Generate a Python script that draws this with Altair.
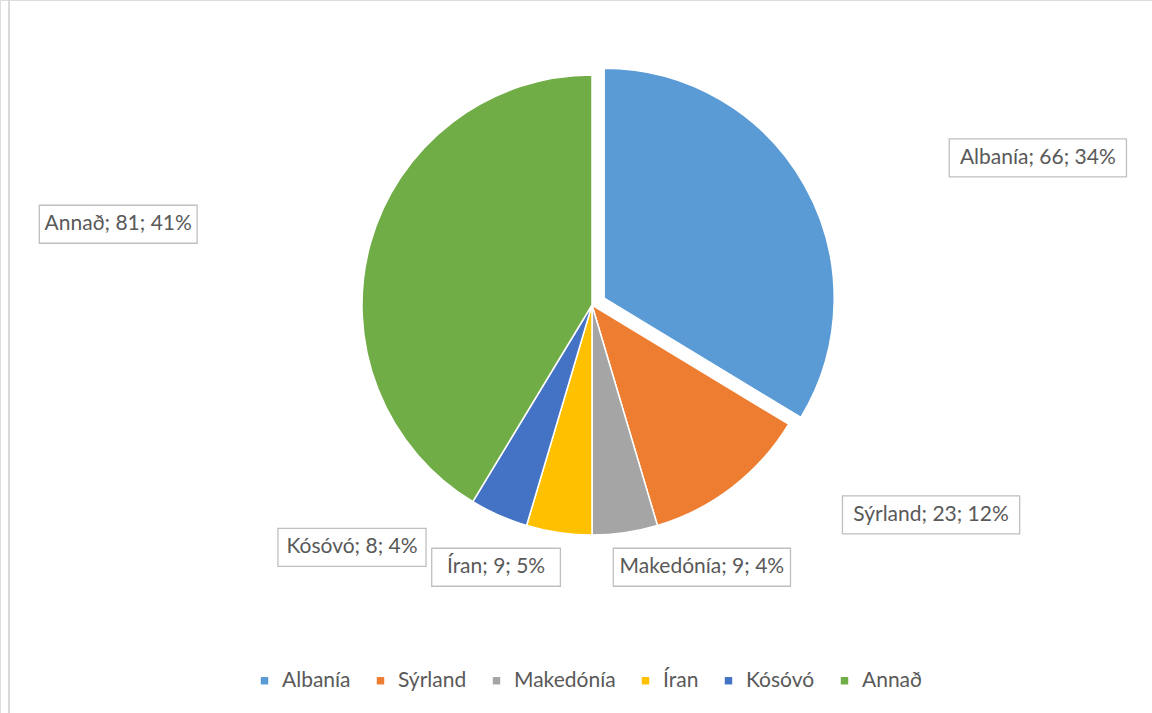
import altair as alt
import pandas as pd

categories = ["Albanía", "Sýrland", "Makedónía", "Íran", "Kósóvó", "Annað"]
values = [66, 23, 9, 9, 8, 81]
percent_labels = ["34%", "12%", "4%", "5%", "4%", "41%"]
colors = ["#5B9BD5", "#ED7D31", "#A5A5A5", "#FFC000", "#4472C4", "#70AD47"]

df = pd.DataFrame({
    "category": categories,
    "value": values,
    "pct": percent_labels,
    "order": list(range(len(categories))),
})
df["label"] = [f"{c}; {v}; {p}" for c, v, p in zip(categories, values, percent_labels)]

CX, CY, R = 592, 305, 230
RX, RY_TOP, RY_BOT = 410, 300, 265
EXPLODE = 14
FONT = "Lato"
LABEL_SIZE = 21
CHAR_W = 9.7
BOX_H = 38

base = (
    alt.Chart(df)
    .transform_window(cum="sum(value)", sort=[alt.SortField("order")], frame=[None, 0])
    .transform_joinaggregate(total="sum(value)")
    .transform_calculate(
        a0="2*PI*(datum.cum-datum.value)/datum.total",
        a1="2*PI*datum.cum/datum.total",
    )
    .transform_calculate(mid="(datum.a0+datum.a1)/2")
    .transform_calculate(
        s="sin(datum.mid)",
        c="cos(datum.mid)",
        ex=f"datum.order === 0 ? {EXPLODE} : 0",
        w=f"length(datum.label)*{CHAR_W} + 22",
    )
    .transform_calculate(
        ax=f"{CX} + {RX}*datum.s",
        ay=f"{CY} - (datum.c > 0 ? {RY_TOP} : {RY_BOT})*datum.c",
        frac="clamp(0.5 + 2*datum.s, 0, 1)",
        px=f"{CX} + datum.ex*datum.s",
        py=f"{CY} - datum.ex*datum.c",
    )
    .transform_calculate(
        bx1="datum.ax - datum.w*(1 - datum.frac)",
        by1=f"datum.ay - {BOX_H/2}",
        by2=f"datum.ay + {BOX_H/2}",
    )
    .transform_calculate(
        bx2="datum.bx1 + datum.w",
        bxc="datum.bx1 + datum.w/2",
    )
)

arcs = base.mark_arc(radius=R, stroke="white", strokeWidth=1.5).encode(
    theta=alt.Theta("a0:Q", scale=None),
    theta2="a1:Q",
    x=alt.X("px:Q", scale=None, axis=None),
    y=alt.Y("py:Q", scale=None, axis=None),
    color=alt.Color(
        "category:N",
        scale=alt.Scale(domain=categories, range=colors),
        sort=categories,
        legend=alt.Legend(
            title=None,
            orient="none",
            legendX=254,
            legendY=670,
            direction="horizontal",
            symbolType="square",
            symbolSize=55,
            symbolStrokeWidth=0,
            labelFont=FONT,
            labelFontSize=21,
            labelColor="#595959",
            labelOffset=7,
            columnPadding=19,
        ),
    ),
)

boxes = base.mark_rect(fill="white", stroke="#BFBFBF", strokeWidth=1.3).encode(
    x=alt.X("bx1:Q", scale=None, axis=None),
    x2="bx2:Q",
    y=alt.Y("by1:Q", scale=None, axis=None),
    y2="by2:Q",
)

texts = base.mark_text(font=FONT, fontSize=LABEL_SIZE, color="#595959", align="center", baseline="middle").encode(
    x=alt.X("bxc:Q", scale=None, axis=None),
    y=alt.Y("ay:Q", scale=None, axis=None),
    text="label:N",
)

frame = alt.Chart(df).mark_rule(color="#D9D9D9", strokeWidth=2).encode(
    x=alt.value(9), y=alt.value(0), y2=alt.value(713)
)

chart = (
    alt.layer(frame, arcs, boxes, texts)
    .properties(width=1152, height=713, autosize=alt.AutoSizeParams(type="none"), padding=0)
    .configure_view(stroke=None)
    .configure(background="white")
)

chart.save("out.html", embed_options={"renderer": "svg", "actions": False})
